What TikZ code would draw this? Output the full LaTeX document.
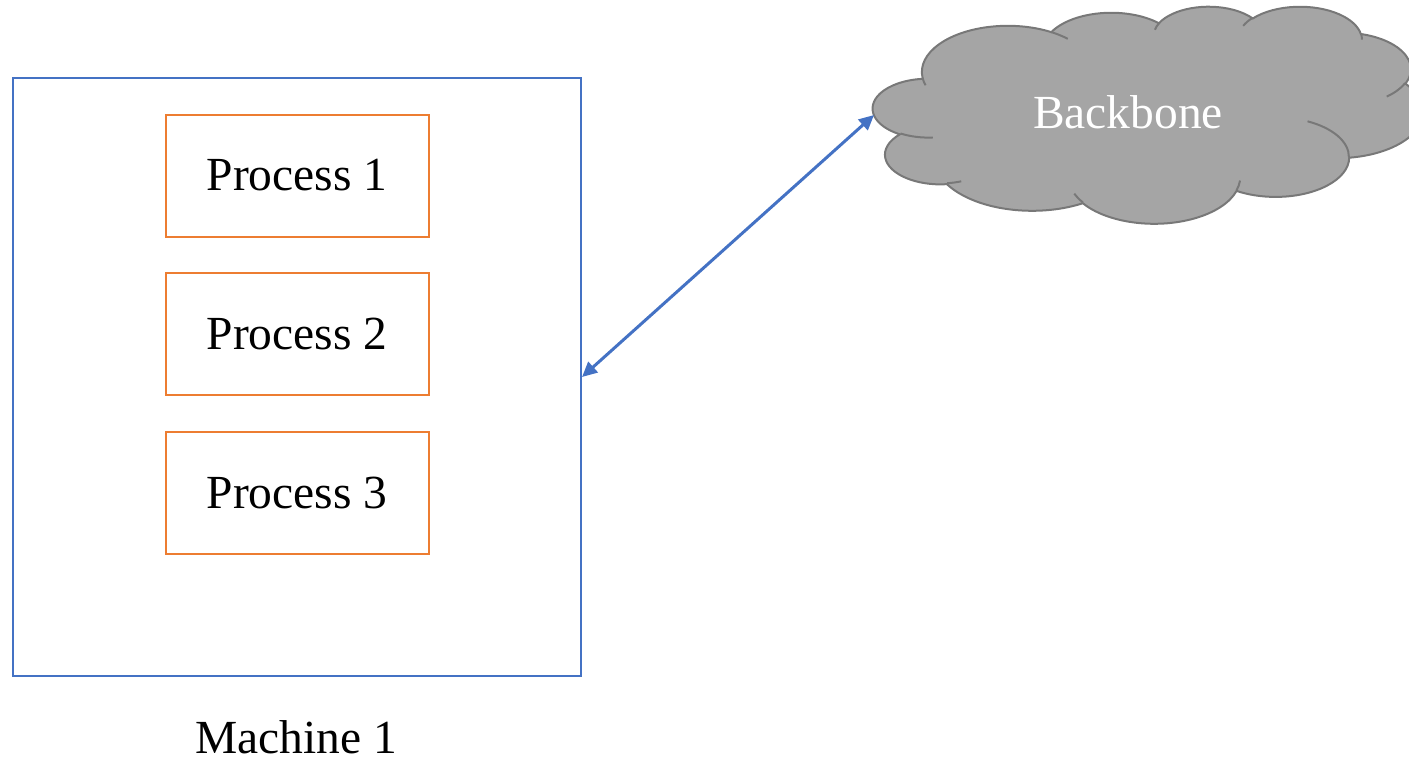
\documentclass[tikz,border=0pt]{standalone}
\usepackage{fontspec}
\setmainfont{Liberation Serif}
\usetikzlibrary{arrows.meta}
\definecolor{blueline}{HTML}{4472C4}
\definecolor{orangeline}{HTML}{ED7D31}
\definecolor{cloudfill}{HTML}{A5A5A5}
\definecolor{cloudline}{HTML}{787878}

% angle helper: converts ray angles of an ellipse arc into parametric ones
\newcommand\cloudang[5]{%
  \pgfmathsetmacro\ctmpa{atan2((#2)*sin(#4),(#3)*cos(#4))}%
  \pgfmathsetmacro\ctmpb{atan2((#2)*sin((#4)+(#5)),(#3)*cos((#4)+(#5)))}%
  \pgfmathsetmacro\ctmpd{\ctmpb-\ctmpa}%
  \pgfmathsetmacro\ctmpd{((#5)>0)*(\ctmpd<0)*360-((#5)<0)*(\ctmpd>0)*360+\ctmpd}%
  \expandafter\let\csname cang#1s\endcsname\ctmpa
  \expandafter\let\csname cang#1d\endcsname\ctmpd
  \expandafter\def\csname cang#1x\endcsname{#2}%
  \expandafter\def\csname cang#1y\endcsname{#3}%
}
\newcommand\cang[1]{\csname cang#1\endcsname}
\newcommand\carc[1]{arc[start angle=\cang{#1s}, delta angle=\cang{#1d}, x radius=\cang{#1x}, y radius=\cang{#1y}]}

\begin{document}
\begin{tikzpicture}[x=1pt,y=-1pt,
  lbl/.style={font=\fontsize{47.5}{56}\selectfont},
  machinebox/.style={draw=blueline, line width=2pt, rectangle, minimum width=568pt, minimum height=598pt},
  procbox/.style={draw=orangeline, line width=2pt, rectangle, minimum width=263pt, minimum height=122pt, lbl},
  cloudshape/.style={fill=cloudfill, draw=cloudline, line width=2pt},
  cloudcrease/.style={draw=cloudline, line width=2pt},
  link/.style={draw=blueline, line width=3pt, {Triangle[length=15pt,width=14pt]}-{Triangle[length=15pt,width=14pt]}}]
\useasboundingbox (0,0) rectangle (1409,761);

% outer outline of the cloud
\cloudang{A}{67.53}{91.90}{-190.4875}{123.7805}
\cloudang{B}{53.33}{72.67}{-144.1024}{89.9452}
\cloudang{C}{43.65}{59.45}{-145.8079}{99.7230}
\cloudang{D}{48.57}{65.95}{-130.9861}{117.2417}
\cloudang{E}{53.33}{72.73}{-78.7089}{109.0269}
\cloudang{F}{67.75}{92.20}{-46.2673}{130.2690}
\cloudang{G}{57.85}{78.67}{0.6250}{114.0333}
\cloudang{H}{67.52}{92.15}{22.4516}{115.1726}
\cloudang{I}{77.20}{105.43}{66.2426}{75.7110}
\cloudang{J}{43.60}{59.18}{-274.9421}{146.7356}
\cloudang{K}{43.45}{59.45}{-246.8285}{152.5189}
% inner creases
\cloudang{a}{43.45}{59.45}{86.7420}{26.4295}
\cloudang{b}{43.60}{59.18}{73.6105}{11.4475}
\cloudang{c}{67.52}{92.15}{137.6242}{14.0811}
\cloudang{d}{67.52}{92.15}{6.4533}{15.9984}
\cloudang{e}{57.85}{78.67}{-70.2924}{70.9174}
\cloudang{f}{53.33}{72.73}{30.3180}{27.7515}
\cloudang{g}{48.57}{65.95}{-13.7443}{14.8589}
\cloudang{h}{48.57}{65.95}{-149.1815}{18.1954}
\cloudang{i}{43.65}{59.45}{-163.4943}{17.6864}
\cloudang{j}{67.53}{91.90}{-66.7070}{12.3194}
\cloudang{k}{67.53}{91.90}{157.6544}{11.8582}

\begin{scope}[shift={(873,6)}, xscale=550/432, yscale=217/432]
  \path[cloudshape] (39.00,143.70) \carc{A} \carc{B} \carc{C} \carc{D} \carc{E} \carc{F}
    \carc{G} \carc{H} \carc{I} \carc{J} \carc{K} -- cycle;
  \path[cloudcrease] (46.93,261.77) \carc{a} (69.28,348.99) \carc{b}
    (164.78,390.90) \carc{c} (288.27,347.51) \carc{d} (341.29,229.54) \carc{e}
    (417.98,153.54) \carc{f} (383.24,54.26) \carc{g} (290.78,39.52) \carc{h}
    (221.41,47.20) \carc{i} (140.00,51.92) \carc{j} (41.27,157.89) \carc{k};
\end{scope}
\node[lbl, text=white] (backbone) at (1128,112) {Backbone};
\coordinate (cloudW) at (874,115);

% machine with its processes
\node[machinebox] (machine) at (297,377) {};
\node[procbox] (p1) at (297,175.5) {Process 1};
\node[procbox] (p2) at (297,334) {Process 2};
\node[procbox] (p3) at (297,493) {Process 3};
\node[lbl] (mlabel) at (296,737) {Machine 1};

\draw[link] (machine.east) -- (cloudW);
\end{tikzpicture}
\end{document}
